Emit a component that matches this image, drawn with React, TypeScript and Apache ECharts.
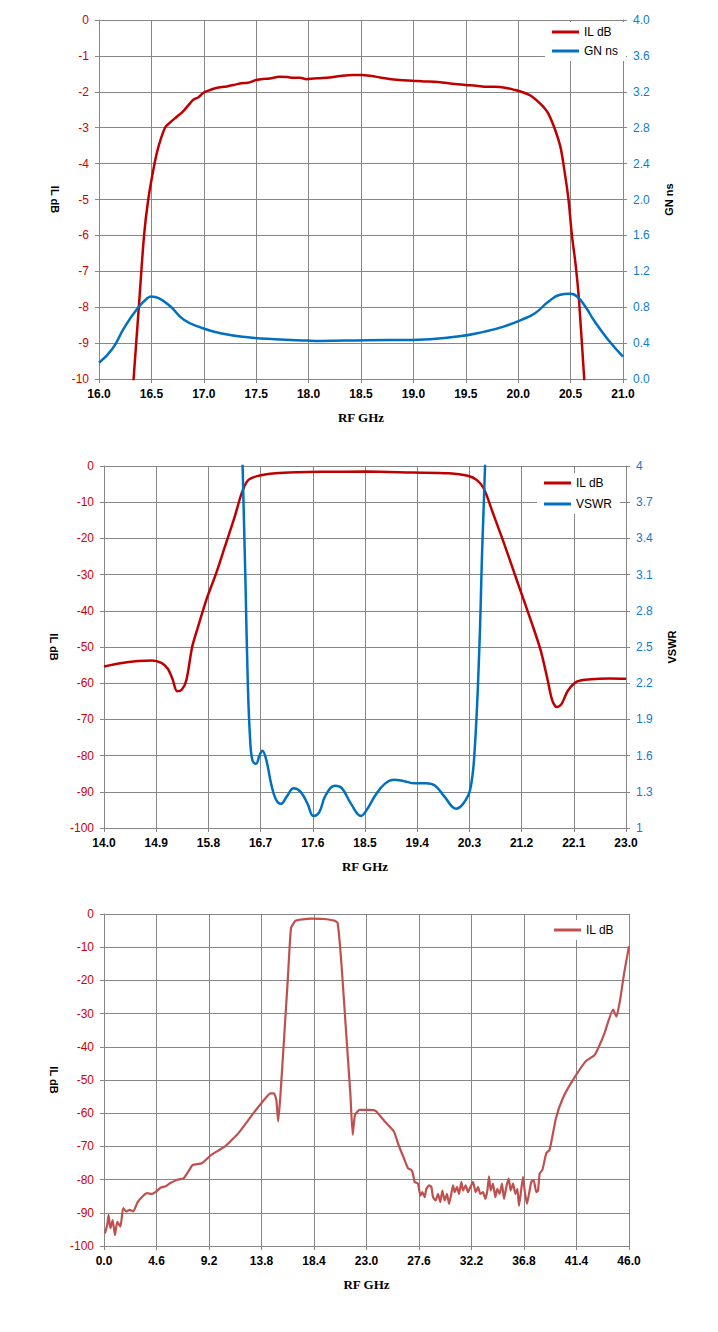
import React, { useEffect, useRef } from "react";
import * as echarts from "echarts";

// ---------- Chart 1 data ----------
const c1IlFreq = [16.30, 16.33, 16.38, 16.43, 16.47, 16.53, 16.57, 16.63, 16.68, 16.74, 16.80, 16.86, 16.90, 16.95, 17.00, 17.06, 17.11, 17.17, 17.22, 17.30, 17.36, 17.42, 17.50, 17.57, 17.63, 17.72, 17.80, 17.85, 17.92, 17.98, 18.05, 18.11, 18.20, 18.30, 18.42, 18.50, 18.60, 18.68, 18.81, 18.90, 18.99, 19.10, 19.20, 19.30, 19.42, 19.50, 19.60, 19.70, 19.77, 19.90, 19.97, 20.03, 20.10, 20.14, 20.20, 20.25, 20.29, 20.34, 20.40, 20.43, 20.48, 20.51, 20.55, 20.58, 20.63, 20.66];
const c1IlValues = [-11.3, -10.0, -8.0, -6.0, -5.0, -4.0, -3.5, -3.0, -2.85, -2.7, -2.55, -2.35, -2.22, -2.15, -2.02, -1.95, -1.9, -1.87, -1.85, -1.8, -1.76, -1.75, -1.67, -1.64, -1.63, -1.58, -1.59, -1.61, -1.61, -1.65, -1.63, -1.62, -1.6, -1.56, -1.53, -1.53, -1.56, -1.6, -1.66, -1.68, -1.69, -1.71, -1.72, -1.75, -1.79, -1.81, -1.83, -1.86, -1.86, -1.9, -1.95, -2.0, -2.08, -2.15, -2.3, -2.45, -2.62, -2.96, -3.5, -3.98, -5.0, -5.93, -6.87, -7.8, -10.0, -11.2];
const c1GnFreq = [16.0, 16.13, 16.24, 16.37, 16.46, 16.50, 16.57, 16.68, 16.81, 16.98, 17.16, 17.42, 17.68, 17.98, 18.11, 18.55, 18.99, 19.42, 19.68, 19.86, 20.03, 20.16, 20.29, 20.40, 20.49, 20.56, 20.64, 20.73, 20.86, 21.0];
const c1GnValues = [0.18, 0.34, 0.57, 0.79, 0.9, 0.92, 0.9, 0.81, 0.66, 0.57, 0.51, 0.465, 0.443, 0.428, 0.424, 0.432, 0.435, 0.473, 0.528, 0.584, 0.659, 0.733, 0.863, 0.938, 0.949, 0.919, 0.807, 0.64, 0.435, 0.25];

// ---------- Chart 2 data ----------
const c2IlFreq = [14.0, 14.28, 14.59, 14.83, 14.99, 15.10, 15.18, 15.26, 15.34, 15.42, 15.52, 15.62, 15.77, 15.93, 16.09, 16.25, 16.37, 16.48, 16.64, 16.96, 17.35, 17.75, 18.53, 19.32, 19.95, 20.27, 20.43, 20.55, 20.71, 20.90, 21.14, 21.38, 21.53, 21.65, 21.73, 21.81, 21.89, 22.0, 22.16, 22.40, 22.71, 23.0];
const c2IlValues = [-55.4, -54.5, -53.9, -53.7, -54.4, -56.0, -58.8, -62.2, -61.8, -59.2, -50.0, -44.5, -36.7, -29.8, -22.0, -14.2, -7.7, -4.0, -2.8, -2.0, -1.7, -1.6, -1.55, -1.8, -2.0, -2.7, -3.9, -6.3, -13.2, -21.5, -32.6, -43.6, -51.0, -59.2, -64.8, -66.6, -65.7, -62.0, -59.5, -58.9, -58.7, -58.8];
const c2VswrFreq = [16.36, 16.39, 16.44, 16.48, 16.52, 16.56, 16.62, 16.68, 16.73, 16.80, 16.88, 16.96, 17.05, 17.15, 17.27, 17.39, 17.51, 17.61, 17.71, 17.82, 17.98, 18.10, 18.26, 18.43, 18.53, 18.69, 18.85, 19.0, 19.16, 19.36, 19.55, 19.71, 19.87, 20.07, 20.19, 20.31, 20.39, 20.47, 20.52, 20.57, 20.59];
const c2VswrValues = [4.6, 4.0, 3.02, 2.19, 1.73, 1.56, 1.53, 1.6, 1.64, 1.56, 1.37, 1.24, 1.2, 1.26, 1.33, 1.3, 1.2, 1.1, 1.13, 1.27, 1.35, 1.33, 1.2, 1.1, 1.15, 1.28, 1.37, 1.4, 1.39, 1.37, 1.37, 1.35, 1.26, 1.16, 1.2, 1.31, 1.64, 2.47, 3.3, 4.0, 4.4];

// ---------- Chart 3 data ----------
const c3Freq = [0.08, 0.28, 0.40, 0.56, 0.76, 0.96, 1.16, 1.44, 1.68, 1.96, 2.24, 2.56, 2.96, 3.4, 3.77, 4.2, 4.57, 4.97, 5.4, 5.77, 6.37, 6.97, 7.4, 7.77, 8.57, 9.37, 10.58, 11.78, 12.98, 13.78, 14.58, 14.90, 15.10, 15.26, 15.46, 15.78, 16.11, 16.39, 16.79, 17.4, 18.19, 19.2, 20.19, 20.47, 20.79, 21.19, 21.59, 21.79, 21.99, 22.4, 23.2, 23.8, 24.6, 25.4, 25.8, 26.34, 26.64, 26.93, 27.07, 27.22, 27.51, 27.72, 27.89, 28.1, 28.24, 28.48, 28.68, 28.83, 29.06, 29.26, 29.47, 29.64, 29.85, 30.05, 30.23, 30.43, 30.58, 30.73, 30.93, 31.11, 31.31, 31.46, 31.69, 31.89, 32.1, 32.33, 32.57, 32.77, 32.97, 33.21, 33.41, 33.59, 33.73, 33.88, 34.08, 34.29, 34.46, 34.67, 34.87, 35.05, 35.25, 35.46, 35.63, 35.84, 36.04, 36.22, 36.36, 36.51, 36.71, 36.86, 37.06, 37.24, 37.44, 37.65, 37.88, 38.03, 38.17, 38.41, 38.61, 38.76, 39.05, 39.6, 40.2, 41.0, 42.2, 43.0, 43.8, 44.6, 44.9, 45.2, 45.6, 46.0];
const c3IlValues = [-96.2, -93.7, -90.6, -94.7, -92.2, -96.7, -92.7, -94.2, -88.6, -89.6, -89.1, -89.6, -86.7, -85.0, -84.1, -84.3, -83.6, -82.4, -82.0, -81.1, -80.1, -79.6, -77.5, -75.6, -75.1, -72.6, -70.1, -66.0, -60.5, -57.0, -54.0, -54.0, -56.0, -62.5, -54.5, -37.4, -19.3, -4.2, -2.0, -1.6, -1.4, -1.5, -2.0, -2.7, -14.3, -34.4, -54.5, -66.5, -60.5, -59.0, -59.0, -59.3, -62.5, -65.5, -69.5, -74.1, -76.6, -77.1, -78.2, -80.7, -81.2, -84.8, -83.8, -85.3, -82.8, -81.7, -82.2, -85.3, -86.3, -84.3, -86.8, -83.3, -86.3, -84.3, -87.3, -84.3, -81.7, -83.8, -82.2, -84.3, -80.7, -83.3, -81.7, -83.8, -82.2, -80.7, -83.8, -82.2, -84.3, -83.8, -85.8, -83.3, -79.0, -83.3, -81.2, -85.3, -82.8, -84.3, -81.2, -85.8, -82.2, -79.7, -83.3, -81.2, -84.3, -82.8, -87.9, -84.3, -79.2, -83.3, -87.3, -84.3, -80.7, -80.2, -83.8, -83.3, -78.2, -77.1, -74.1, -72.0, -71.0, -61.5, -55.5, -50.5, -44.4, -42.4, -36.4, -28.8, -30.9, -26.3, -17.3, -9.7];

// ---------- Tick labels ----------
const c1XTicks = { min: 16, max: 21, interval: 0.5 };
const c1LeftTicks = { min: -10, max: 0, interval: 1 };
const c1RightTicks = { min: 0, max: 4, interval: 0.4 };
const c2XTicks = { min: 14, max: 23, interval: 0.9 };
const c2LeftTicks = { min: -100, max: 0, interval: 10 };
const c2RightTicks = { min: 1, max: 4, interval: 0.3 };
const c3XTicks = { min: 0, max: 46, interval: 4.6 };
const c3LeftTicks = { min: -100, max: 0, interval: 10 };

const RED = "#C00000";
const BLUE = "#0070C0";
const RED3 = "#C0504D";
const GRID = "#868686";
const LABEL_RED = "#D00000";
const LABEL_BLUE = "#0E7CD0";
const SANS = "'Liberation Sans', Arial, sans-serif";
const SERIF = "'Liberation Serif', 'Times New Roman', serif";

const zip = (xs: number[], ys: number[]) => xs.map((x, i) => [x, ys[i]]);

function xAxis(t: { min: number; max: number; interval: number }) {
  return {
    type: "value",
    min: t.min,
    max: t.max,
    interval: t.interval,
    name: "RF GHz",
    nameLocation: "middle",
    nameGap: 32,
    nameTextStyle: { fontFamily: SERIF, fontWeight: "bold", fontSize: 13, color: "#000" },
    axisLine: { show: true, onZero: false, lineStyle: { color: GRID, width: 1 } },
    axisTick: { show: true, length: 4, lineStyle: { color: GRID, width: 1 } },
    splitLine: { show: true, lineStyle: { color: GRID, width: 1 } },
    axisLabel: {
      formatter: (v: number) => v.toFixed(1),
      fontFamily: SANS,
      fontWeight: "bold",
      fontSize: 12,
      color: "#000",
      margin: 9,
    },
  };
}

function leftAxis(t: { min: number; max: number; interval: number }) {
  return {
    type: "value",
    position: "left",
    min: t.min,
    max: t.max,
    interval: t.interval,
    name: "IL dB",
    nameLocation: "middle",
    nameRotate: -90,
    nameGap: 38,
    nameTextStyle: { fontFamily: SANS, fontWeight: "bold", fontSize: 11, color: "#000" },
    axisLine: { show: true, onZero: false, lineStyle: { color: GRID, width: 1 } },
    axisTick: { show: true, length: 4, lineStyle: { color: GRID, width: 1 } },
    splitLine: { show: true, lineStyle: { color: GRID, width: 1 } },
    axisLabel: {
      formatter: (v: number) => String(Math.round(v * 10) / 10),
      fontFamily: SANS,
      fontSize: 12,
      color: LABEL_RED,
      margin: 10,
    },
  };
}

function rightAxis(t: { min: number; max: number; interval: number }, name: string, fmt: (v: number) => string) {
  return {
    type: "value",
    position: "right",
    min: t.min,
    max: t.max,
    interval: t.interval,
    name,
    nameLocation: "middle",
    nameRotate: 90,
    nameGap: 40,
    nameTextStyle: { fontFamily: SANS, fontWeight: "bold", fontSize: 11, color: "#000" },
    axisLine: { show: true, onZero: false, lineStyle: { color: GRID, width: 1 } },
    axisTick: { show: true, length: 4, lineStyle: { color: GRID, width: 1 } },
    splitLine: { show: false },
    axisLabel: {
      formatter: fmt,
      fontFamily: SANS,
      fontSize: 12,
      color: LABEL_BLUE,
      margin: 10,
    },
  };
}

function legend(left: number, top: number, names: string[], gap: number) {
  return {
    orient: "vertical",
    left,
    top,
    data: names,
    icon: "rect",
    itemWidth: 27,
    itemHeight: 3,
    itemGap: gap,
    padding: [4, 8, 4, 7],
    backgroundColor: "#ffffff",
    textStyle: { fontFamily: SANS, fontSize: 12, color: "#000" },
    selectedMode: false,
  };
}

function lineSeries(name: string, data: number[][], color: string, yAxisIndex: number, smooth: number | boolean, width = 2.5) {
  return {
    type: "line",
    name,
    data,
    yAxisIndex,
    smooth,
    showSymbol: false,
    symbol: "none",
    clip: true,
    color,
    lineStyle: { color, width },
  };
}

const option1 = {
  animation: false,
  grid: { left: 99, top: 20, width: 524, height: 359, containLabel: false },
  legend: legend(545, 22, ["IL dB", "GN ns"], 7),
  xAxis: xAxis(c1XTicks),
  yAxis: [leftAxis(c1LeftTicks), rightAxis(c1RightTicks, "GN ns", (v) => v.toFixed(1))],
  series: [
    lineSeries("IL dB", zip(c1IlFreq, c1IlValues), RED, 0, 0.3),
    lineSeries("GN ns", zip(c1GnFreq, c1GnValues), BLUE, 1, 0.5),
  ],
};

const option2 = {
  animation: false,
  grid: { left: 104, top: 21, width: 522, height: 362, containLabel: false },
  legend: legend(537, 28, ["IL dB", "VSWR"], 9),
  xAxis: xAxis(c2XTicks),
  yAxis: [leftAxis(c2LeftTicks), rightAxis(c2RightTicks, "VSWR", (v) => String(Math.round(v * 10) / 10))],
  series: [
    lineSeries("IL dB", zip(c2IlFreq, c2IlValues), RED, 0, 0.3),
    lineSeries("VSWR", zip(c2VswrFreq, c2VswrValues), BLUE, 1, 0.4),
  ],
};

const option3 = {
  animation: false,
  grid: { left: 104, top: 24, width: 525, height: 332, containLabel: false },
  legend: legend(547, 30, ["IL dB"], 5),
  xAxis: xAxis(c3XTicks),
  yAxis: [leftAxis(c3LeftTicks)],
  series: [lineSeries("IL dB", zip(c3Freq, c3IlValues), RED3, 0, 0.15, 2.2)],
};

function Chart({ option, top, height }: { option: any; top: number; height: number }) {
  const ref = useRef<HTMLDivElement>(null);
  useEffect(() => {
    if (!ref.current) return;
    const chart = echarts.init(ref.current, undefined, { renderer: "svg" });
    chart.setOption(option);
    return () => chart.dispose();
  }, [option]);
  return (
    <div
      ref={ref}
      style={{ position: "absolute", left: 0, top, width: 718, height, background: "#fff" }}
    />
  );
}

export default function App() {
  return (
    <div style={{ position: "absolute", left: 0, top: 0, width: 718, height: 1332, background: "#fff" }}>
      <Chart option={option1} top={0} height={445} />
      <Chart option={option2} top={445} height={445} />
      <Chart option={option3} top={890} height={442} />
    </div>
  );
}
